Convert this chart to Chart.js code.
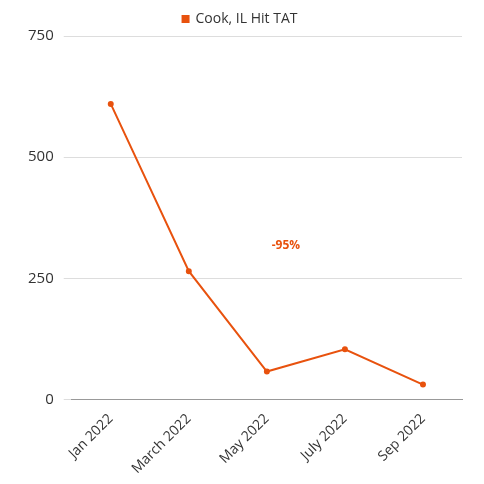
<!DOCTYPE html>
<html>
<head>
<meta charset="utf-8">
<script src="https://cdn.jsdelivr.net/npm/chart.js@4"></script>
<style>
  html, body { margin: 0; padding: 0; background: #fff; }
  #wrap { width: 484px; height: 484px; }
</style>
</head>
<body>
<div id="wrap"><canvas id="chart"></canvas></div>
<script>
const meses = ["Jan 2022", "March 2022", "May 2022", "July 2022", "Sep 2022"];
const hitTat = [610, 265, 58, 104, 31];
const eixoY = [0, 250, 500, 750];
const LARANJA = "#E8520E";

// rótulo "-95%" no meio do gráfico
const rotuloVariacao = {
  id: "rotuloVariacao",
  afterDatasetsDraw(chart) {
    const { ctx, scales } = chart;
    const x = (scales.x.getPixelForValue(2) + scales.x.getPixelForValue(3)) / 2 - 20;
    const y = scales.y.getPixelForValue(318);
    ctx.save();
    ctx.font = 'bold 12px "Open Sans", sans-serif';
    ctx.fillStyle = LARANJA;
    ctx.textAlign = "center";
    ctx.textBaseline = "middle";
    ctx.fillText("-95%", x, y);
    ctx.restore();
  },
};

Chart.defaults.font.family = '"Open Sans", sans-serif';
Chart.defaults.color = "#222";

new Chart(document.getElementById("chart"), {
  type: "line",
  data: {
    labels: meses,
    datasets: [{
      label: "Cook, IL Hit TAT",
      data: hitTat,
      borderColor: LARANJA,
      backgroundColor: LARANJA,
      borderWidth: 2,
      pointRadius: 2,
      tension: 0,
    }],
  },
  options: {
    responsive: true, maintainAspectRatio: false, animation: false,
    layout: { padding: { left: 18, right: 22, top: 2, bottom: 4 } },
    plugins: {
      legend: {
        labels: { boxWidth: 6, boxHeight: 6, font: { size: 14 }, color: "#333" },
      },
      tooltip: { enabled: false },
    },
    scales: {
      x: {
        offset: true,
        grid: { display: false },
        border: { color: "#999" },
        ticks: { maxRotation: 45, minRotation: 45, font: { size: 14 }, color: "#333" },
      },
      y: {
        min: 0, max: 750,
        afterBuildTicks: (s) => { s.ticks = eixoY.map((v) => ({ value: v })); },
        grid: { color: "#ddd" },
        border: { display: false },
        ticks: { font: { size: 15 }, color: "#333", padding: 10 },
      },
    },
  },
  plugins: [rotuloVariacao],
});
</script>
</body>
</html>
